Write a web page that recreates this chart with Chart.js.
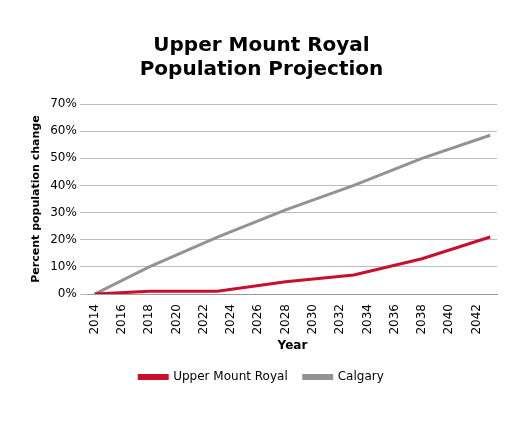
<!DOCTYPE html>
<html><head><meta charset="utf-8">
<script src="https://cdn.jsdelivr.net/npm/chart.js@4"></script>
<style>html,body{margin:0;background:#fff}#w{width:509px;height:425px}</style>
</head><body><div id="w"><canvas id="c"></canvas></div>
<script>
const years = [];
for (let y = 2014; y <= 2043; y++) years.push(String(y));
const anchorYears = ['2014','2018','2023','2028','2033','2038','2043'];
const umrAnchors = [0, 1, 1, 4.5, 7, 13, 21];
const calgaryAnchors = [0, 10, 21, 31, 40, 50, 58.5];
const toSeries = v => years.map(y => { const i = anchorYears.indexOf(y); return i >= 0 ? v[i] : null; });
const umr = toSeries(umrAnchors), cal = toSeries(calgaryAnchors);
Chart.defaults.font.family = 'DejaVu Sans';
Chart.defaults.color = '#000';
new Chart(document.getElementById('c'), {
  type: 'line',
  data: { labels: years, datasets: [
    { label: 'Upper Mount Royal', data: umr, borderColor: '#c8102e', backgroundColor: '#c8102e', borderWidth: 3, pointRadius: 0, spanGaps: true },
    { label: 'Calgary', data: cal, borderColor: '#939393', backgroundColor: '#939393', borderWidth: 3, pointRadius: 0, spanGaps: true }
  ]},
  options: {
    responsive: true, maintainAspectRatio: false, animation: false,
    layout: { padding: { left: 26, right: 12, top: 34, bottom: 32 } },
    plugins: {
      title: { display: true, text: ['Upper Mount Royal', 'Population Projection'], font: { size: 20, weight: 'bold' }, padding: { bottom: 22 }, lineHeight: 1.2 },
      legend: { position: 'bottom', labels: { boxWidth: 28, boxHeight: 3, font: { size: 12 }, padding: 16 } }
    },
    scales: {
      x: { offset: true, grid: { display: false }, border: { color: '#999' },
        ticks: { autoSkip: false, maxRotation: 90, minRotation: 90, font: { size: 12 }, padding: 2,
          callback: function(v, i) { return i % 2 === 0 ? this.getLabelForValue(v) : ''; } },
        title: { display: true, text: 'Year', font: { size: 12, weight: 'bold' }, padding: 2 } },
      y: { min: 0, max: 70, grid: { color: '#bbb' }, border: { display: false },
        ticks: { stepSize: 10, font: { size: 12 }, callback: v => v + '%' },
        title: { display: true, text: 'Percent population change', font: { size: 11, weight: 'bold' } } }
    }
  }
});
</script></body></html>
